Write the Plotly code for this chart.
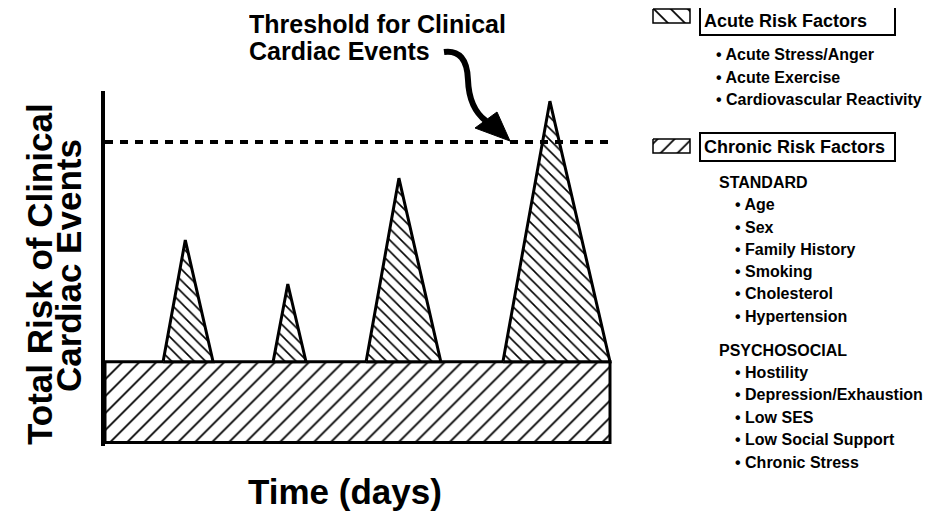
import plotly.graph_objects as go

# ---------------- data ----------------
days_range = [0, 100]
chronic_level = 23.0
threshold = 85.5

acute_start = [11.5, 33.3, 51.7, 78.8]
acute_peak_day = [15.9, 36.2, 58.2, 88.1]
acute_end = [21.4, 39.8, 66.5, 100.0]
acute_peak_risk = [57.6, 45.1, 75.2, 97.1]

acute_title = "Acute Risk Factors"
acute_items = ["Acute Stress/Anger", "Acute Exercise", "Cardiovascular Reactivity"]
chronic_title = "Chronic Risk Factors"
standard_header = "STANDARD"
standard_items = ["Age", "Sex", "Family History", "Smoking", "Cholesterol", "Hypertension"]
psycho_header = "PSYCHOSOCIAL"
psycho_items = ["Hostility", "Depression/Exhaustion", "Low SES", "Low Social Support", "Chronic Stress"]

threshold_text = ["Threshold for Clinical", "Cardiac Events"]
y_title = ["Total Risk of Clinical", "Cardiac Events"]
x_title = "Time (days)"

# ---------------- figure ----------------
OFF = 8  # page body margin
W, H = 936 - OFF, 513 - OFF
FONT = "Liberation Sans"
fig = go.Figure()

def px(v):
    return v - OFF

# chronic baseline block
fig.add_trace(go.Scatter(
    x=[days_range[0], days_range[1], days_range[1], days_range[0], days_range[0]],
    y=[0, 0, chronic_level, chronic_level, 0],
    mode="lines", fill="toself", line=dict(color="black", width=3),
    fillcolor="white",
    fillpattern=dict(shape="/", fgcolor="black", bgcolor="white", size=12, solidity=0.15, fillmode="replace"),
    hoverinfo="skip", showlegend=False))

# acute spikes
for s, p, e, h in zip(acute_start, acute_peak_day, acute_end, acute_peak_risk):
    fig.add_trace(go.Scatter(
        x=[s, p, e, s], y=[chronic_level, h, chronic_level, chronic_level],
        mode="lines", fill="toself", line=dict(color="black", width=3),
        fillcolor="white",
        fillpattern=dict(shape="\\", fgcolor="black", bgcolor="white", size=8, solidity=0.2, fillmode="replace"),
        hoverinfo="skip", showlegend=False))

# threshold
fig.add_trace(go.Scatter(
    x=[days_range[0], days_range[1] + 0.4], y=[threshold, threshold],
    mode="lines", line=dict(color="black", width=4, dash="8px,7px"),
    hoverinfo="skip", showlegend=False))

# legend swatches on pixel overlay axes
def swatch(x0, y0, x1, y1, shape):
    xs = [px(x0), px(x1), px(x1), px(x0), px(x0)]
    ys = [px(y0), px(y0), px(y1), px(y1), px(y0)]
    fig.add_trace(go.Scatter(
        x=xs, y=ys, xaxis="x2", yaxis="y2",
        mode="lines", fill="toself", line=dict(color="black", width=1.5),
        fillcolor="white",
        fillpattern=dict(shape=shape, fgcolor="black", bgcolor="white", size=12, solidity=0.14, fillmode="replace"),
        hoverinfo="skip", showlegend=False))

swatch(653, 9, 690, 23, "\\")
swatch(653, 139, 690, 153, "/")

annotations = []
def txt(text, x, y, size, xanchor="left", **kw):
    d = dict(text=text, x=px(x), y=px(y), xref="x2", yref="y2", showarrow=False,
             xanchor=xanchor, yanchor="middle",
             font=dict(family=FONT, size=size, color="black", weight="bold"))
    d.update(kw)
    annotations.append(d)

# legend boxes
txt(acute_title, 699, 21, 18, bordercolor="black", borderwidth=2, borderpad=3, width=187, height=20, align="left")
txt(chronic_title, 699, 146.5, 18, bordercolor="black", borderwidth=2, borderpad=3, width=187, height=20, align="left")

for t, y in zip(acute_items, [54, 77, 99]):
    txt("• " + t, 714, y, 16)
txt(standard_header, 717, 182, 16)
for t, y in zip(standard_items, [204, 227, 249, 271, 293, 316]):
    txt("• " + t, 733, y, 16)
txt(psycho_header, 717, 350, 16)
for t, y in zip(psycho_items, [372, 394, 417, 439, 462]):
    txt("• " + t, 733, y, 16)

# threshold label
txt(threshold_text[0], 247, 24, 25, height=26)
txt(threshold_text[1], 247, 51, 25, height=26)

# axis titles
txt(y_title[0], 39, 274, 35, xanchor="center", textangle=-90, height=29)
txt(y_title[1], 68, 266, 35, xanchor="center", textangle=-90, height=29)
txt(x_title, 345, 491, 35, xanchor="center")

shapes = [
    dict(type="path", xref="x2", yref="y2",
         path=f"M {px(444)},{px(52)} Q {px(467)},{px(49)} {px(468)},{px(80)} Q {px(469)},{px(108)} {px(486)},{px(121)}",
         line=dict(color="black", width=6), fillcolor="rgba(0,0,0,0)"),
    dict(type="path", xref="x2", yref="y2",
         path=f"M {px(475)},{px(128)} L {px(497)},{px(112)} L {px(510)},{px(141)} Z",
         line=dict(color="black", width=1), fillcolor="black"),
]

# main axes pixel geometry (reference-window pixels)
x0_px, x_scale = 105.0, 5.05
y0_px, y_scale = 442.5, 3.515
x_max = 101.5
y_min, y_max = -1.0, 100.0
left_px = px(x0_px)
right_px = px(x0_px + x_max * x_scale)
top_px = px(y0_px - y_max * y_scale)
bottom_px = px(y0_px - y_min * y_scale)

fig.update_layout(
    width=W, height=H, margin=dict(l=0, r=0, t=0, b=0),
    paper_bgcolor="white", plot_bgcolor="rgba(0,0,0,0)",
    xaxis=dict(domain=[left_px / W, right_px / W], range=[0, x_max],
               showgrid=False, zeroline=False, showticklabels=False, ticks="",
               showline=False),
    yaxis=dict(domain=[1 - bottom_px / H, 1 - top_px / H], range=[y_min, y_max],
               showgrid=False, zeroline=False, showticklabels=False, ticks="",
               showline=True, linecolor="black", linewidth=4),
    xaxis2=dict(domain=[0, 1], range=[0, W], visible=False, anchor="y2"),
    yaxis2=dict(domain=[0, 1], range=[H, 0], visible=False, anchor="x2"),
    annotations=annotations, shapes=shapes, showlegend=False,
)

fig.write_html("out.html")
